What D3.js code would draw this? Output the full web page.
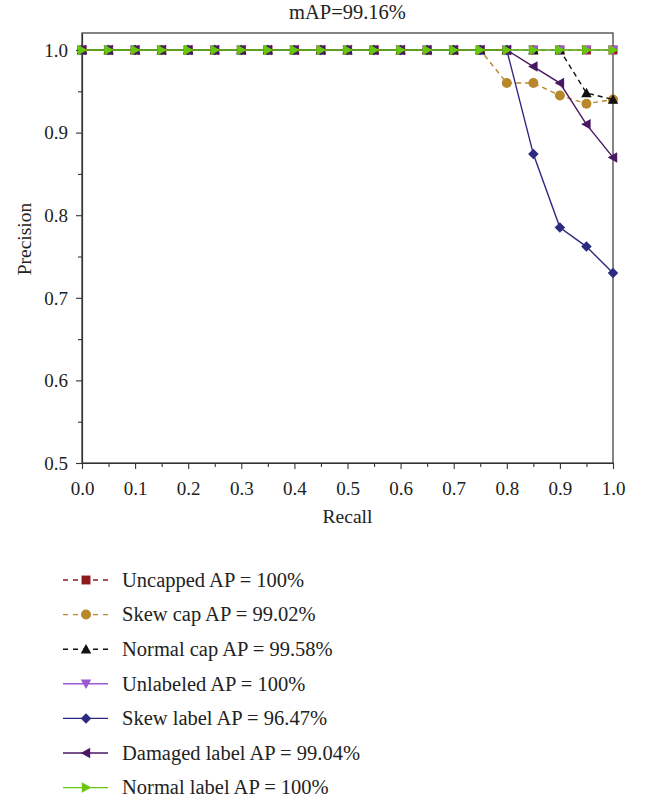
<!DOCTYPE html>
<html><head><meta charset="utf-8">
<script src="https://cdn.jsdelivr.net/npm/d3@7"></script>
<style>body{margin:0;background:#fff}svg{display:block}text{font-family:"Liberation Serif","DejaVu Serif",serif;fill:#222}</style>
</head><body><svg id="c" width="653" height="800"></svg>
<script>
const recall = d3.range(0, 21).map(i => +(i * 0.05).toFixed(2));
const ones = n => Array(n).fill(1.0);
const uncapped = ones(21);
const skewCap = ones(16).concat([0.96, 0.96, 0.945, 0.935, 0.94]);
const normalCap = ones(19).concat([0.948, 0.94]);
const unlabeled = ones(21);
const skewLabel = ones(17).concat([0.874, 0.785, 0.762, 0.73]);
const damagedLabel = ones(17).concat([0.98, 0.96, 0.91, 0.87]);
const normalLabel = ones(21);
const seriesNames = ["Uncapped AP = 100%", "Skew cap AP = 99.02%", "Normal cap AP = 99.58%", "Unlabeled AP = 100%", "Skew label AP = 96.47%", "Damaged label AP = 99.04%", "Normal label AP = 100%"];
const seriesValues = [uncapped, skewCap, normalCap, unlabeled, skewLabel, damagedLabel, normalLabel];
const colors = ["#8e1b1b", "#b8862b", "#111111", "#9a5bd1", "#2c2a80", "#4a1763", "#66c80a"];
const dashed = [true, true, true, false, false, false, false];
const symbols = ["square", "circle", "triUp", "triDown", "diamond", "triLeft", "triRight"];
const xTicks = [0, 0.1, 0.2, 0.3, 0.4, 0.5, 0.6, 0.7, 0.8, 0.9, 1.0];
const yTicks = [0.5, 0.6, 0.7, 0.8, 0.9, 1.0];
const title = "mAP=99.16%";

const svg = d3.select("#c");
const L = 82, R = 613, T = 33, B = 463;
const x = d3.scaleLinear().domain([0, 1]).range([L, R]);
const y = d3.scaleLinear().domain([0.5, 1.0206]).range([B, T]);
const FONT = '"Liberation Serif","DejaVu Serif",serif';

function markerPath(type, s) {
  const h = s / 2;
  switch (type) {
    case "square": return `M${-h*0.85},${-h*0.85}H${h*0.85}V${h*0.85}H${-h*0.85}Z`;
    case "circle": return d3.symbol(d3.symbolCircle, Math.PI * h * h * 0.9)();
    case "triUp": return `M0,${-h}L${h},${h*0.8}L${-h},${h*0.8}Z`;
    case "triDown": return `M0,${h}L${h},${-h*0.8}L${-h},${-h*0.8}Z`;
    case "diamond": return `M0,${-h}L${h},0L0,${h}L${-h},0Z`;
    case "triLeft": return `M${-h},0L${h*0.8},${-h}L${h*0.8},${h}Z`;
    case "triRight": return `M${h},0L${-h*0.8},${-h}L${-h*0.8},${h}Z`;
  }
}

// frame
svg.append("rect").attr("x", L).attr("y", T).attr("width", R - L).attr("height", B - T)
  .attr("fill", "none").attr("stroke", "#333").attr("stroke-width", 1.2);

// axes
const xAxis = d3.axisBottom(x).tickValues(xTicks).tickFormat(d3.format(".1f")).tickSize(6).tickSizeOuter(0);
const gx = svg.append("g").attr("transform", `translate(0,${B})`).call(xAxis);
const xMinor = d3.axisBottom(x).tickValues(d3.range(0.05, 1, 0.1)).tickFormat("").tickSize(4).tickSizeOuter(0);
svg.append("g").attr("transform", `translate(0,${B})`).call(xMinor).select(".domain").remove();
const yAxis = d3.axisLeft(y).tickValues(yTicks).tickFormat(d3.format(".1f")).tickSize(6).tickSizeOuter(0);
const gy = svg.append("g").attr("transform", `translate(${L},0)`).call(yAxis);
const yMinor = d3.axisLeft(y).tickValues(d3.range(0.55, 1.0, 0.1)).tickFormat("").tickSize(4).tickSizeOuter(0);
svg.append("g").attr("transform", `translate(${L},0)`).call(yMinor).select(".domain").remove();
svg.selectAll(".domain").attr("stroke", "#333").attr("stroke-width", 1.2);
svg.selectAll(".tick line").attr("stroke", "#333").attr("stroke-width", 1.1);
gx.selectAll(".tick text").attr("font-size", 19).attr("y", 32).attr("dy", 0).attr("fill", "#222");
gy.selectAll(".tick text").attr("font-size", 19).attr("x", -14).attr("dy", "0.33em").attr("fill", "#222");
svg.selectAll(".tick text").style("font-family", FONT);

// labels
svg.append("text").attr("x", (L + R) / 2).attr("y", 19).attr("text-anchor", "middle").attr("font-size", 20.5).text(title);
svg.append("text").attr("x", (L + R) / 2).attr("y", 523).attr("text-anchor", "middle").attr("font-size", 19.5).text("Recall");
svg.append("text").attr("transform", `translate(31,${(T + B) / 2 - 9}) rotate(-90)`).attr("text-anchor", "middle").attr("font-size", 19.5).text("Precision");

// series
const line = d3.line().x((d, i) => x(recall[i])).y(d => y(d));
seriesValues.forEach((vals, k) => {
  const g = svg.append("g");
  g.append("path").attr("d", line(vals)).attr("fill", "none").attr("stroke", colors[k])
    .attr("stroke-width", 1.4).attr("stroke-dasharray", dashed[k] ? "5,4" : null);
  g.selectAll("path.m").data(vals).join("path").attr("class", "m")
    .attr("transform", (d, i) => `translate(${x(recall[i])},${y(d)})`)
    .attr("d", markerPath(symbols[k], 10.5)).attr("fill", colors[k]);
});

// legend
const lg = svg.append("g");
seriesNames.forEach((name, k) => {
  const yy = 580 + k * 34.6;
  lg.append("line").attr("x1", 63).attr("x2", 108).attr("y1", yy).attr("y2", yy)
    .attr("stroke", colors[k]).attr("stroke-width", 1.4).attr("stroke-dasharray", dashed[k] ? "5,5" : null);
  lg.append("path").attr("transform", `translate(86,${yy})`).attr("d", markerPath(symbols[k], 10.5)).attr("fill", colors[k]);
  lg.append("text").attr("x", 122).attr("y", yy).attr("dy", "0.33em").attr("font-size", 20.5).text(name);
});
</script></body></html>
